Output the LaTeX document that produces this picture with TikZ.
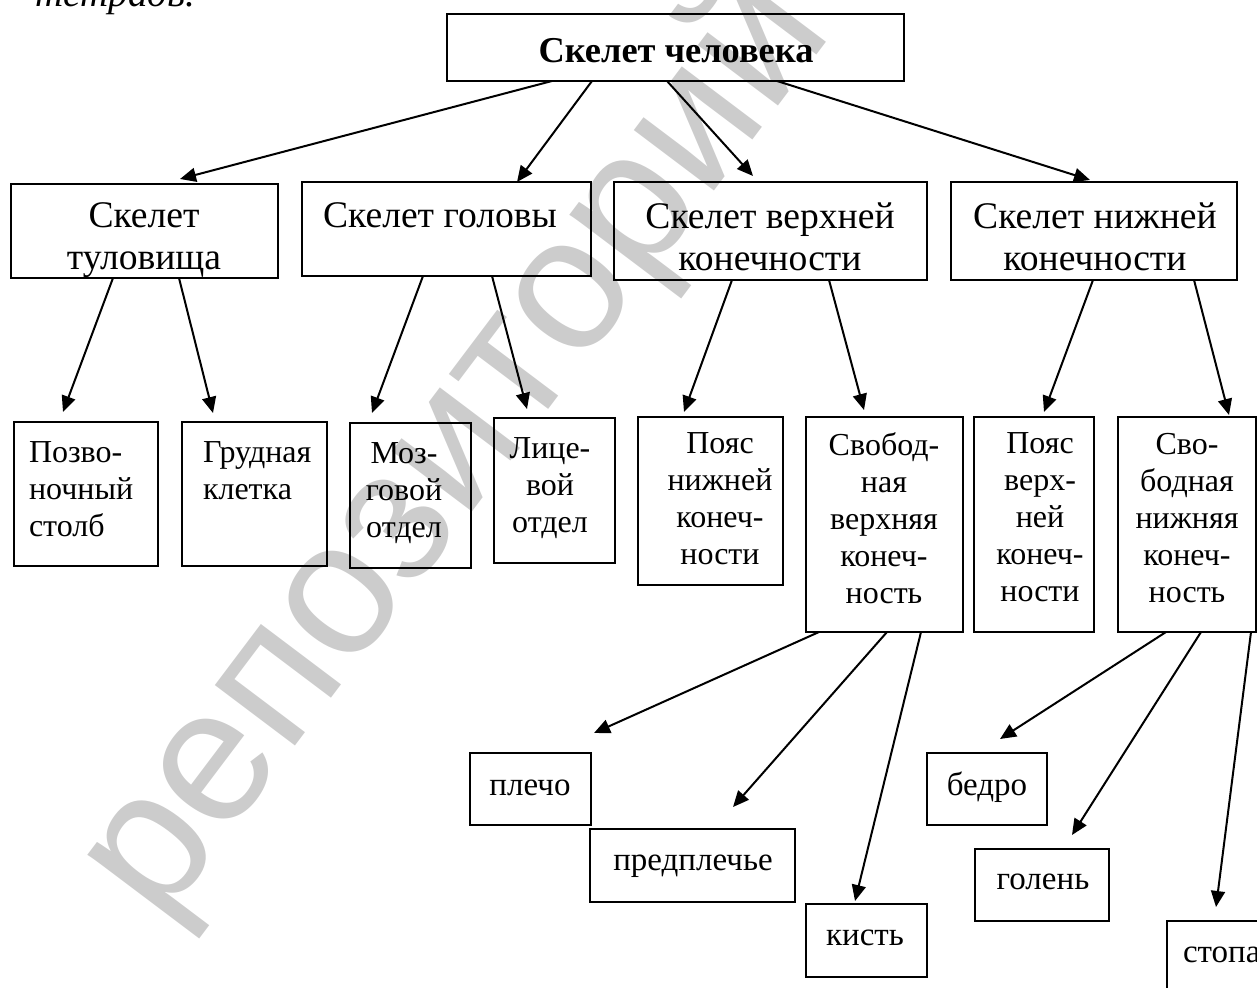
\documentclass[tikz,border=0pt]{standalone}
\usepackage{fontspec}
\setmainfont{Liberation Serif}
\newfontfamily\wmfont{Liberation Sans}
\usetikzlibrary{calc,arrows.meta}
\newcommand\ftop{\fontsize{18.2}{21}\selectfont\bfseries}
\newcommand\fmid{\fontsize{18.8}{20.8}\selectfont}
\newcommand\fsm{\fontsize{16}{18.5}\selectfont}
\newcommand\fleaf{\fontsize{16.5}{19}\selectfont}
\newcommand\mkbox[5]{\node[bx, minimum width={(#4-#2)*0.5pt}, minimum height={(#5-#3)*0.5pt}] (#1) at (#2,#3) {};}
\tikzset{
  bx/.style={draw, line width=1pt, inner sep=0pt, outer sep=0pt, anchor=north west},
  txt/.style={inner sep=0pt, outer sep=0pt, align=center},
  arr/.style={line width=1pt, -{Triangle[length=8pt,width=7pt]}},
}
\begin{document}
\begin{tikzpicture}[x=0.5pt,y=-0.5pt]
\useasboundingbox (0,0) rectangle (1257,988);
\clip (0,0) rectangle (1257,988);
% watermark
\node[rotate=53, anchor=base west, inner sep=0pt, text=black!20, font={\wmfont\fontsize{95}{95}\selectfont}] (wm) at (160,926) {репозиторий};
% cut-off text at the top
\node[anchor=base west, inner sep=0pt, font={\fontsize{19.5}{22}\selectfont\itshape}] (prev) at (35,7) {тетрадь.};
% boxes
\mkbox{top}{447}{14}{904}{81}
\mkbox{A}{11}{184}{278}{278}
\mkbox{B}{302}{182}{591}{276}
\mkbox{C}{614}{182}{927}{280}
\mkbox{D}{951}{182}{1237}{280}
\mkbox{A1}{14}{422}{158}{566}
\mkbox{A2}{182}{422}{327}{566}
\mkbox{B1}{350}{423}{471}{568}
\mkbox{B2}{494}{418}{615}{563}
\mkbox{C1}{638}{417}{783}{585}
\mkbox{C2}{806}{417}{963}{632}
\mkbox{D1}{974}{417}{1094}{632}
\mkbox{D2}{1118}{417}{1256}{632}
\mkbox{P}{470}{753}{591}{825}
\mkbox{PP}{590}{829}{795}{902}
\mkbox{K}{806}{904}{927}{977}
\mkbox{Be}{927}{753}{1047}{825}
\mkbox{G}{975}{849}{1109}{921}
\mkbox{S}{1167}{921}{1300}{1030}
% texts
\node[txt, font=\ftop, anchor=north] (top-t) at (676,38) {Скелет человека};
\node[txt, font=\fmid, anchor=north] (A-t) at (144,203) {Скелет\\туловища};
\node[txt, font=\fmid, anchor=north] (B-t) at (440,203) {Скелет головы};
\node[txt, font=\fmid, anchor=north] (C-t) at (770,203) {Скелет верхней\\конечности};
\node[txt, font=\fmid, anchor=north] (D-t) at (1095,203) {Скелет нижней\\конечности};
\node[txt, font=\fsm, anchor=north west, align=left] (A1-t) at (29,442) {Позво-\\ночный\\столб};
\node[txt, font=\fsm, anchor=north west, align=left] (A2-t) at (203,442) {Грудная\\клетка};
\node[txt, font=\fsm, anchor=north] (B1-t) at (404,443) {Моз-\\говой\\отдел};
\node[txt, font=\fsm, anchor=north] (B2-t) at (550,438) {Лице-\\вой\\отдел};
\node[txt, font=\fsm, anchor=north] (C1-t) at (720,433) {Пояс\\нижней\\конеч-\\ности};
\node[txt, font=\fsm, anchor=north] (C2-t) at (884,433) {Свобод-\\ная\\верхняя\\конеч-\\ность};
\node[txt, font=\fsm, anchor=north] (D1-t) at (1040,433) {Пояс\\верх-\\ней\\конеч-\\ности};
\node[txt, font=\fsm, anchor=north] (D2-t) at (1187,433) {Сво-\\бодная\\нижняя\\конеч-\\ность};
\node[txt, font=\fleaf, anchor=base] (P-t) at (530,795) {плечо};
\node[txt, font=\fleaf, anchor=base] (PP-t) at (693,870) {предплечье};
\node[txt, font=\fleaf, anchor=base] (K-t) at (865,945) {кисть};
\node[txt, font=\fleaf, anchor=base] (Be-t) at (987,795) {бедро};
\node[txt, font=\fleaf, anchor=base] (G-t) at (1043,889) {голень};
\node[txt, font=\fleaf, anchor=base west] (S-t) at (1183,962) {стопа};
% arrow tips
\coordinate (tA) at (180,179);
\coordinate (tB) at (517,182);
\coordinate (tC) at (753,176);
\coordinate (tD) at (1090,180);
\coordinate (tA1) at (63,412);
\coordinate (tA2) at (213,413);
\coordinate (tB1) at (372,413);
\coordinate (tB2) at (527,409);
\coordinate (tC1) at (684,412);
\coordinate (tC2) at (864,410);
\coordinate (tD1) at (1044,412);
\coordinate (tD2) at (1229,415);
\coordinate (tP) at (594,733);
\coordinate (tPP) at (733,807);
\coordinate (tK) at (855,901);
\coordinate (tBe) at (1000,739);
\coordinate (tG) at (1072,835);
\coordinate (tS) at (1216,907);
% connectors
\draw[arr] ($(top.south west)+(105,0)$) -- (tA);
\draw[arr] ($(top.south west)+(145,0)$) -- (tB);
\draw[arr] ($(top.south west)+(220,0)$) -- (tC);
\draw[arr] ($(top.south west)+(330,0)$) -- (tD);
\draw[arr] ($(A.south west)+(102,0)$) -- (tA1);
\draw[arr] ($(A.south west)+(168,0)$) -- (tA2);
\draw[arr] ($(B.south west)+(121,0)$) -- (tB1);
\draw[arr] ($(B.south west)+(190,0)$) -- (tB2);
\draw[arr] ($(C.south west)+(118,0)$) -- (tC1);
\draw[arr] ($(C.south west)+(215,0)$) -- (tC2);
\draw[arr] ($(D.south west)+(142,0)$) -- (tD1);
\draw[arr] ($(D.south west)+(243,0)$) -- (tD2);
\draw[arr] ($(C2.south west)+(13,0)$) -- (tP);
\draw[arr] ($(C2.south west)+(81,0)$) -- (tPP);
\draw[arr] ($(C2.south west)+(115,0)$) -- (tK);
\draw[arr] ($(D2.south west)+(48,0)$) -- (tBe);
\draw[arr] ($(D2.south west)+(83,0)$) -- (tG);
\draw[arr] ($(D2.south west)+(133,0)$) -- (tS);
\end{tikzpicture}
\end{document}
